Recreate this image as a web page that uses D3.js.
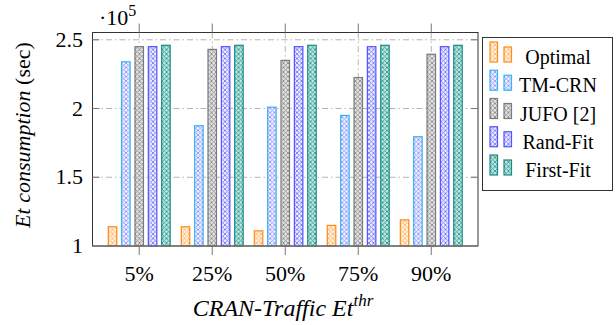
<!DOCTYPE html>
<html>
<head>
<meta charset="utf-8">
<script src="https://cdn.jsdelivr.net/npm/d3@7"></script>
<style>
  body { margin: 0; background: #fff; }
</style>
</head>
<body>
<svg id="chart" width="616" height="325"></svg>
<script>
// data (values x 10^5 sec)
const categories = ['5%', '25%', '50%', '75%', '90%'];
const seriesNames = ['Optimal', 'TM-CRN', 'JUFO [2]', 'Rand-Fit', 'First-Fit'];
const optimal  = [1.14, 1.14, 1.11, 1.15, 1.19];
const tmCrn    = [2.34, 1.875, 2.01, 1.95, 1.795];
const jufo     = [2.45, 2.43, 2.35, 2.225, 2.395];
const randFit  = [2.45, 2.45, 2.45, 2.45, 2.45];
const firstFit = [2.46, 2.46, 2.46, 2.46, 2.46];
const yTicks = [1, 1.5, 2, 2.5];

const allSeries = [optimal, tmCrn, jufo, randFit, firstFit];

// stroke, hatch, fill per series
const styles = [
  {stroke: '#ff8a14', hatch: '#ffb870', fill: '#fff2e4'},
  {stroke: '#2fb8f0', hatch: '#9494ff', fill: '#f0f0ff'},
  {stroke: '#7a7a7a', hatch: '#8c8c8c', fill: '#e4e4e4'},
  {stroke: '#5252ff', hatch: '#7a7aff', fill: '#ececff'},
  {stroke: '#1c8a88', hatch: '#2f9b96', fill: '#c4e6e0'}
];

const FONT = "'Liberation Serif'";
const svg = d3.select('#chart');
const L = 92.5, R = 478, T = 32.5, B = 246;

// helper so every label gets the serif face
function txt(sel, size){
  return sel.append('text').style('font-family', FONT).style('font-size', size + 'px');
}

const x = d3.scalePoint().domain(categories).range([L, R]).padding(0.64);
const xs = d3.scalePoint().domain(seriesNames).range([-26.7, 26.7]);
const y = d3.scaleLinear().domain([1, 2.553]).range([B, T]);
const barW = 8.5;

// hatch patterns
const defs = svg.append('defs');
styles.forEach((s, i) => {
  const p = defs.append('pattern').attr('id', 'hatch' + i)
    .attr('patternUnits', 'userSpaceOnUse').attr('width', 4.5).attr('height', 4.5);
  p.append('rect').attr('width', 4.5).attr('height', 4.5).attr('fill', s.fill);
  p.append('path').attr('d', 'M0,0L4.5,4.5M4.5,0L0,4.5')
    .attr('stroke', s.hatch).attr('stroke-width', 0.9).attr('fill', 'none');
});

// grid lines (dash-dot)
const grid = svg.append('g').attr('stroke', '#b4b4b4').attr('stroke-width', 1)
  .attr('stroke-dasharray', '6,3,1.5,3').attr('fill', 'none');
grid.selectAll('line.h').data(yTicks.filter(d => d > 1)).join('line')
  .attr('x1', L).attr('x2', R).attr('y1', d => y(d)).attr('y2', d => y(d));
grid.selectAll('line.v').data(categories).join('line')
  .attr('y1', T).attr('y2', B).attr('x1', d => x(d)).attr('x2', d => x(d));

// bars
const groups = svg.append('g').selectAll('g').data(allSeries).join('g');
groups.each(function(vals, si){
  d3.select(this).selectAll('rect').data(vals).join('rect')
    .attr('x', (d, ci) => x(categories[ci]) + xs(seriesNames[si]) - barW/2)
    .attr('width', barW)
    .attr('y', d => y(d))
    .attr('height', d => y(1) - y(d))
    .attr('fill', `url(#hatch${si})`)
    .attr('stroke', styles[si].stroke)
    .attr('stroke-width', 1.2);
});

// frame
svg.append('rect').attr('x', L).attr('y', T).attr('width', R - L).attr('height', B - T)
  .attr('fill', 'none').attr('stroke', '#333').attr('stroke-width', 1);
svg.append('line').attr('x1', L).attr('x2', R).attr('y1', B).attr('y2', B)
  .attr('stroke', '#7a7a7a').attr('stroke-width', 1.6);

// x ticks (outside, top and bottom)
const xt = svg.append('g').attr('stroke', '#777').attr('stroke-width', 1);
xt.selectAll('line.b').data(categories).join('line')
  .attr('x1', d => x(d)).attr('x2', d => x(d)).attr('y1', B).attr('y2', B + 9);
xt.selectAll('line.t').data(categories).join('line')
  .attr('x1', d => x(d)).attr('x2', d => x(d)).attr('y1', T).attr('y2', T - 9);

// y ticks (inside, both sides)
const yt = svg.append('g').attr('stroke', '#777').attr('stroke-width', 1);
yt.selectAll('line.l').data(yTicks.slice(1)).join('line')
  .attr('x1', L).attr('x2', L + 7).attr('y1', d => y(d)).attr('y2', d => y(d));
yt.selectAll('line.r').data(yTicks.slice(1)).join('line')
  .attr('x1', R - 7).attr('x2', R).attr('y1', d => y(d)).attr('y2', d => y(d));

// tick labels
const xLab = svg.append('g');
categories.forEach(c => {
  txt(xLab, 22).attr('x', x(c)).attr('y', 281).attr('text-anchor', 'middle').text(c);
});
const yLab = svg.append('g');
yTicks.forEach(v => {
  txt(yLab, 22).attr('x', 83).attr('y', y(v) + 7).attr('text-anchor', 'end').text(v);
});

// scale multiplier
const mult = txt(svg, 22).attr('x', 99).attr('y', 25);
mult.append('tspan').text('·10');
mult.append('tspan').attr('dy', -9).style('font-size', '16px').text('5');

// axis titles
const yl = txt(svg, 22).attr('transform', 'translate(30,135) rotate(-90)')
  .attr('text-anchor', 'middle');
yl.append('tspan').style('font-style', 'italic').text('Et consumption');
yl.append('tspan').text(' (sec)');

const xl = txt(svg, 24).attr('x', 283).attr('y', 316)
  .attr('text-anchor', 'middle').style('font-style', 'italic');
xl.append('tspan').text('CRAN-Traffic Et');
xl.append('tspan').attr('dy', -10).style('font-size', '17px').text('thr');

// legend
const lg = svg.append('g');
lg.append('rect').attr('x', 482.5).attr('y', 37.5).attr('width', 130).attr('height', 153)
  .attr('fill', '#fff').attr('stroke', '#333').attr('stroke-width', 1);
const ly = d3.scalePoint().domain(seriesNames).range([57, 170]);
seriesNames.forEach((name, i) => {
  const cy = ly(name);
  lg.append('rect').attr('x', 490).attr('y', cy - 15).attr('width', 7.5).attr('height', 20)
    .attr('fill', `url(#hatch${i})`).attr('stroke', styles[i].stroke).attr('stroke-width', 1.2);
  lg.append('rect').attr('x', 504).attr('y', cy - 10).attr('width', 7.5).attr('height', 15)
    .attr('fill', `url(#hatch${i})`).attr('stroke', styles[i].stroke).attr('stroke-width', 1.2);
  txt(lg, 20).attr('x', 558).attr('y', cy + 7).attr('text-anchor', 'middle').text(name);
});
</script>
</body>
</html>
